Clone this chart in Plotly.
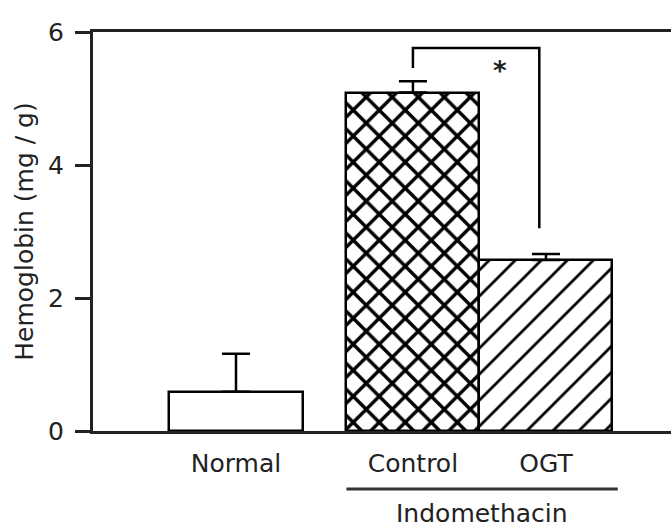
import plotly.graph_objects as go

# ---- data ----
categories = ["Normal", "Control", "OGT"]
hemoglobin = [0.59, 5.09, 2.57]
sem = [0.57, 0.17, 0.09]
group_label = "Indomethacin"
y_ticks = [0, 2, 4, 6]

# ---- layout helpers (positions / styles) ----
x_pos = [0, 1.33, 2.33]
bar_width = 1.0
patterns = ["", "x", "/"]
solidity = [0.0, 0.34, 0.15]
FONT = "DejaVu Sans"
INK = "#222222"

fig = go.Figure()
fig.add_trace(go.Bar(
    x=x_pos, y=hemoglobin, width=bar_width,
    marker=dict(color="white",
                line=dict(color="black", width=2.5),
                pattern=dict(shape=patterns, fgcolor="black", bgcolor="white",
                             size=18.4, solidity=solidity, fillmode="replace")),
    error_y=dict(type="data", symmetric=False, array=sem,
                 arrayminus=[0, 0, 0], color="black", thickness=2.5, width=14),
    showlegend=False,
))

# significance bracket between Control and OGT
ctrl_top = hemoglobin[1] + sem[1]
ogt_top = hemoglobin[2] + sem[2]
br_top = ctrl_top + 0.5
br_x0 = x_pos[1]
br_x1 = x_pos[2] - 0.05
fig.add_trace(go.Scatter(
    x=[br_x0, br_x0, br_x1, br_x1],
    y=[ctrl_top + 0.2, br_top, br_top, ogt_top + 0.39],
    mode="lines", line=dict(color="black", width=2.5),
    showlegend=False, hoverinfo="skip",
))

# plot-area pixel geometry for paper-referenced decorations
PLOT_W, PLOT_H = 578, 399
x_lo, x_hi = -1.075, 3.27
def xpaper(v):
    return (v - x_lo) / (x_hi - x_lo)

annotations = [
    dict(x=(br_x0 + br_x1) / 2 + 0.18, y=ctrl_top + 0.15, xref="x", yref="y",
         text="<b>*</b>", showarrow=False, font=dict(family=FONT, size=26, color=INK),
         xanchor="center", yanchor="middle"),
    dict(x=xpaper((x_pos[1] + x_pos[2]) / 2 + 0.02), y=-82 / PLOT_H,
         xref="paper", yref="paper",
         text=group_label, showarrow=False,
         font=dict(family=FONT, size=25, color=INK),
         xanchor="center", yanchor="middle"),
]

shapes = [
    dict(type="line", xref="paper", yref="paper",
         x0=xpaper(x_pos[1] - bar_width / 2), x1=xpaper(x_pos[2] + bar_width / 2 + 0.04),
         y0=-58 / PLOT_H, y1=-58 / PLOT_H,
         line=dict(color="#333333", width=3)),
]

fig.update_layout(
    width=671, height=528,
    margin=dict(l=93, r=0, t=32, b=97),
    paper_bgcolor="white", plot_bgcolor="white",
    font=dict(family=FONT, size=25, color=INK),
    annotations=annotations,
    shapes=shapes,
    xaxis=dict(range=[x_lo, x_hi], showgrid=False, zeroline=False,
               showline=True, mirror=True, linecolor=INK, linewidth=3,
               tickmode="array", tickvals=x_pos, ticktext=categories,
               ticks="", ticklabelstandoff=8,
               tickfont=dict(family=FONT, size=25, color=INK)),
    yaxis=dict(range=[0, 6], showgrid=False, zeroline=False,
               showline=True, linecolor=INK, linewidth=3,
               tickmode="array", tickvals=y_ticks,
               ticks="outside", ticklen=15, tickwidth=3, tickcolor=INK,
               ticklabelstandoff=6,
               tickfont=dict(family=FONT, size=25, color=INK),
               title=dict(text="Hemoglobin (mg / g)", standoff=8,
                          font=dict(family=FONT, size=25, color=INK))),
    bargap=0,
)

fig.write_html("out.html")
